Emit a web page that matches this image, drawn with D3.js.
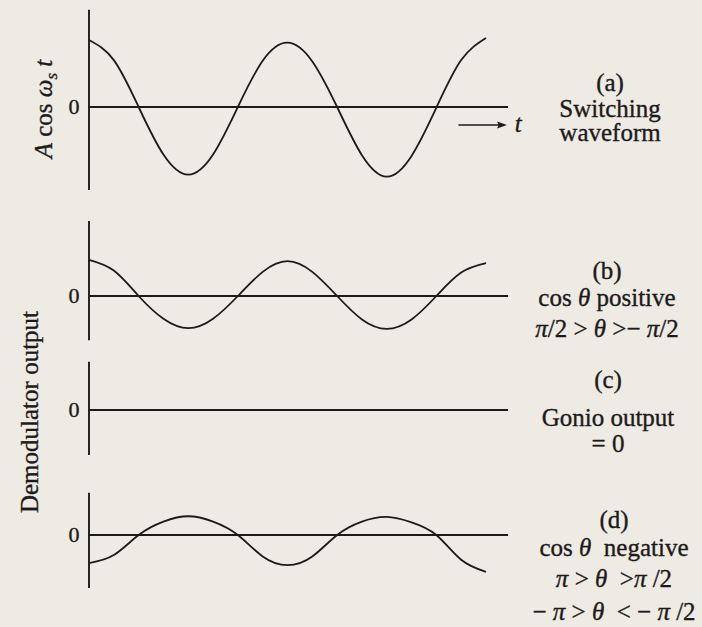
<!DOCTYPE html>
<html>
<head>
<meta charset="utf-8">
<script src="https://cdn.jsdelivr.net/npm/d3@7"></script>
<style>
  html, body { margin: 0; padding: 0; background: #eeeae4; }
  svg { display: block; }
  text { font-family: "Liberation Serif", "Times New Roman", serif; fill: #1d1b1a;
         stroke: #1d1b1a; stroke-width: 0.35px; white-space: pre; }
  .it { font-style: italic; }
</style>
</head>
<body>
<svg id="chart" width="702" height="627"></svg>
<script>
// Phase of the switching waveform, in degrees (two full periods).
const phase = [0, 45, 90, 135, 180, 225, 270, 315, 360, 405, 450, 495, 540, 585, 630, 675, 720];

// (a) switching waveform A cos(ws t), A = 1
const switching = [1.00, 0.70, 0.00, -0.71, -1.01, -0.71, 0.00, 0.69, 0.96, 0.68, 0.00, -0.72, -1.04, -0.73, -0.01, 0.70, 1.03];
// (b) demodulator output, cos θ positive
const outPositive = [0.54, 0.38, 0.00, -0.34, -0.48, -0.34, 0.00, 0.36, 0.52, 0.36, 0.00, -0.35, -0.49, -0.35, 0.00, 0.35, 0.49];
// (c) demodulator output, gonio output = 0
const outZero = [0, 0, 0, 0, 0, 0, 0, 0, 0, 0, 0, 0, 0, 0, 0, 0, 0];
// (d) demodulator output, cos θ negative
const outNegative = [-0.42, -0.30, 0.00, 0.20, 0.28, 0.20, 0.00, -0.32, -0.45, -0.32, 0.00, 0.20, 0.27, 0.19, 0.00, -0.37, -0.55];

// Tick label on every vertical axis
const zeroTick = "0";

// Captions: each line is a list of [text, italic] segments
const captionA = [[["(a)", false]], [["Switching", false]], [["waveform", false]]];
const captionB = [[["(b)", false]],
                  [["cos ", false], ["θ", true], [" positive", false]],
                  [["π", true], ["/2 > ", false], ["θ", true], [" >− ", false], ["π", true], ["/2", false]]];
const captionC = [[["(c)", false]], [["Gonio output", false]], [["= 0", false]]];
const captionD = [[["(d)", false]],
                  [["cos ", false], ["θ", true], ["  negative", false]],
                  [["π", true], [" > ", false], ["θ", true], ["  >", false], ["π", true], [" /2", false]],
                  [["− ", false], ["π", true], [" > ", false], ["θ", true], ["  < − ", false], ["π", true], [" /2", false]]];

// ---- layout ----
const svg = d3.select("#chart");
const ink = "#1d1b1a";
const unitPx = 67;          // pixels per unit of amplitude (same for every panel)
const tEnd = 760;           // where the time axes stop, in degrees

const x = d3.scaleLinear().domain([0, 720]).range([89, 486]);

const panels = [
  { series: switching,   zeroY: 107, ext: [-1.24, 1.45], caption: captionA, capX: 610, capY: [91, 117, 141] },
  { series: outPositive, zeroY: 296, ext: [-0.66, 1.12], caption: captionB, capX: 607, capY: [279, 306, 337] },
  { series: outZero,     zeroY: 410, ext: [-0.67, 0.72], caption: captionC, capX: 608, capY: [388, 426, 452] },
  { series: outNegative, zeroY: 535, ext: [-0.79, 0.63], caption: captionD, capX: 614, capY: [528, 556, 587, 620] }
];

panels.forEach(p => {
  const y = d3.scaleLinear().domain([0, 1]).range([p.zeroY, p.zeroY - unitPx]);
  p.y = y;
  const g = svg.append("g");

  // vertical axis
  g.append("line")
    .attr("x1", x(0)).attr("x2", x(0))
    .attr("y1", y(p.ext[0])).attr("y2", y(p.ext[1]))
    .attr("stroke", ink).attr("stroke-width", 1.9);

  // zero (time) axis
  g.append("line")
    .attr("x1", x(0)).attr("x2", x(tEnd))
    .attr("y1", y(0)).attr("y2", y(0))
    .attr("stroke", ink).attr("stroke-width", 1.8);

  // zero tick label
  g.append("text")
    .attr("x", x(0) - 15).attr("y", y(0) + 7)
    .attr("text-anchor", "middle")
    .attr("font-size", 22)
    .text(zeroTick);

  // waveform
  const line = d3.line()
    .x((d, i) => x(phase[i]))
    .y(d => y(d))
    .curve(d3.curveNatural);
  g.append("path")
    .attr("d", line(p.series))
    .attr("fill", "none")
    .attr("stroke", ink).attr("stroke-width", 1.8);

  // caption
  p.caption.forEach((segs, li) => {
    const t = g.append("text")
      .attr("x", p.capX).attr("y", p.capY[li])
      .attr("text-anchor", "middle")
      .attr("font-size", 25);
    segs.forEach(([s, it]) => t.append("tspan").attr("class", it ? "it" : null).text(s));
  });
});

// time arrow under the switching waveform
const ya = panels[0].y;
svg.append("line")
  .attr("x1", x(670)).attr("x2", x(752))
  .attr("y1", ya(-0.27)).attr("y2", ya(-0.27))
  .attr("stroke", ink).attr("stroke-width", 1.5);
svg.append("path")
  .attr("d", `M${x(758)},${ya(-0.27)} L${x(740)},${ya(-0.27) - 3.5} L${x(743)},${ya(-0.27)} L${x(740)},${ya(-0.27) + 3.5} Z`)
  .attr("fill", ink);
svg.append("text")
  .attr("class", "it")
  .attr("x", x(772)).attr("y", ya(-0.27) + 7)
  .attr("font-size", 25)
  .text("t");

// vertical axis titles
const titleA = svg.append("text")
  .attr("transform", `translate(52,109) rotate(-90)`)
  .attr("text-anchor", "middle")
  .attr("font-size", 25);
titleA.append("tspan").attr("class", "it").text("A");
titleA.append("tspan").text(" cos ");
titleA.append("tspan").attr("class", "it").text("ω");
titleA.append("tspan").attr("class", "it").attr("font-size", 17).attr("dy", 5).text("s");
titleA.append("tspan").attr("class", "it").attr("dy", -5).text(" t");

svg.append("text")
  .attr("transform", `translate(38,412) rotate(-90)`)
  .attr("text-anchor", "middle")
  .attr("font-size", 25)
  .text("Demodulator output");
</script>
</body>
</html>
